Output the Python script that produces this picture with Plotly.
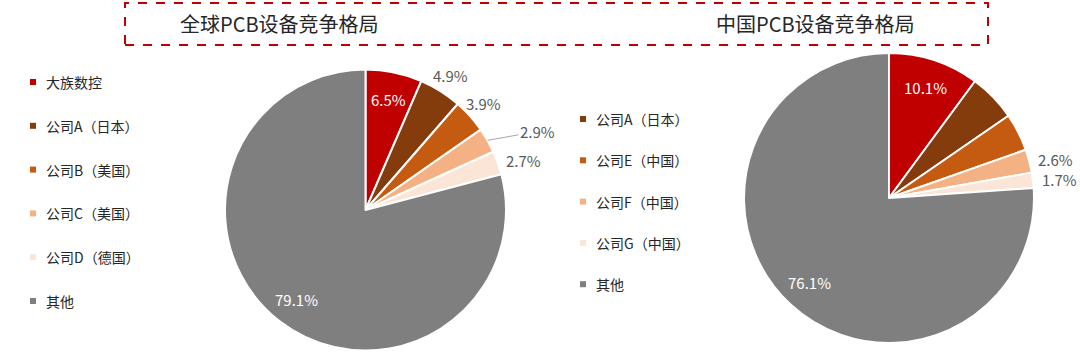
import math
import plotly.graph_objects as go

# ---- data ----
global_labels = ["大族数控", "公司A（日本）", "公司B（美国）", "公司C（美国）", "公司D（德国）", "其他"]
global_values = [6.5, 4.9, 3.9, 2.9, 2.7, 79.1]
global_text = ["6.5%", "4.9%", "3.9%", "2.9%", "2.7%", "79.1%"]

china_labels = ["大族数控", "公司A（日本）", "公司E（中国）", "公司F（中国）", "公司G（中国）", "其他"]
china_values = [10.1, 5.3, 4.2, 2.6, 1.7, 76.1]
china_text = ["10.1%", "", "", "2.6%", "1.7%", "76.1%"]

china_legend_labels = ["公司A（日本）", "公司E（中国）", "公司F（中国）", "公司G（中国）", "其他"]

titles = ["全球PCB设备竞争格局", "中国PCB设备竞争格局"]

# ---- styles ----
colors = ["#C00000", "#843C0C", "#C55A11", "#F4B183", "#FBE5D6", "#7F7F7F"]
legend_color_map = dict(zip(china_labels, colors))
legend_color_map.update(dict(zip(global_labels, colors)))
FONT = "Noto Sans CJK SC"
W, H = 1080, 360

# label placement styles: inside / outside / leader
global_place = ["in", "out", "out", "lead", "out", "in"]
china_place = ["in", "", "", "out", "out", "in"]

PIE1 = (365.5, 210, 140.5)
PIE2 = (889, 198, 145)


def dom(cx, cy, r):
    return dict(x=[(cx - r) / W, (cx + r) / W], y=[(H - cy - r) / H, (H - cy + r) / H])


fig = go.Figure()
shapes = []
annotations = []


def add_pie(labels, values, texts, places, geom):
    cx, cy, r = geom
    fig.add_trace(go.Pie(
        labels=labels, values=values, sort=False, direction="clockwise", rotation=0,
        marker=dict(colors=colors, line=dict(color="white", width=2)),
        textinfo="none", domain=dom(cx, cy, r), showlegend=False,
        hoverinfo="label+percent",
    ))
    total = sum(values)
    cum = 0.0
    for v, t, p in zip(values, texts, places):
        mid = (cum + v / 2) / total * 2 * math.pi
        cum += v
        if not t or not p:
            continue
        s, c = math.sin(mid), math.cos(mid)
        if p == "in":
            f = 0.8
            px, py = cx + f * r * s, cy - f * r * c
            annotations.append(dict(text=t, x=px / W, y=(H - py) / H, xref="paper", yref="paper",
                                    showarrow=False, xanchor="center", yanchor="middle",
                                    font=dict(size=15, color="white", family=FONT)))
        elif p == "out":
            deg = math.degrees(mid)
            if deg > 60:
                f, xa = 1.05, "left"
            else:
                f, xa = 1.13, "center"
            px, py = cx + f * r * s, cy - f * r * c
            annotations.append(dict(text=t, x=px / W, y=(H - py) / H, xref="paper", yref="paper",
                                    showarrow=False, xanchor=xa, yanchor="middle",
                                    font=dict(size=15, color="#595959", family=FONT)))
        else:  # leader line
            px, py = cx + 1.0 * r * s, cy - 1.0 * r * c
            annotations.append(dict(text=t, x=px / W, y=(H - py) / H, xref="paper", yref="paper",
                                    showarrow=True, arrowhead=0, arrowwidth=1, arrowcolor="#A6A6A6",
                                    ax=50, ay=-9, xanchor="center", yanchor="middle",
                                    font=dict(size=15, color="#595959", family=FONT)))


add_pie(global_labels, global_values, global_text, global_place, PIE1)
add_pie(china_labels, china_values, china_text, china_place, PIE2)

# dashed title box
shapes.append(dict(type="rect", xref="paper", yref="paper",
                   x0=125 / W, x1=988 / W, y0=(H - 45) / H, y1=(H - 3) / H,
                   line=dict(color="#C00000", width=2, dash="dash")))

for t, cx in zip(titles, [279, 815]):
    annotations.append(dict(text=t, x=cx / W, y=(H - 23) / H, xref="paper", yref="paper",
                            showarrow=False, xanchor="center", yanchor="middle",
                            font=dict(size=20, color="#262626", family=FONT)))


def add_legend(labels, x_marker, y_start, step):
    for i, lab in enumerate(labels):
        y = y_start + i * step
        c = legend_color_map[lab]
        shapes.append(dict(type="rect", xref="paper", yref="paper",
                           x0=(x_marker - 3) / W, x1=(x_marker + 3) / W,
                           y0=(H - y - 3) / H, y1=(H - y + 3) / H,
                           fillcolor=c, line=dict(width=0)))
        annotations.append(dict(text=lab, x=(x_marker + 11) / W, y=(H - y) / H,
                                xref="paper", yref="paper", showarrow=False,
                                xanchor="left", yanchor="middle",
                                font=dict(size=14, color="#262626", family=FONT)))


add_legend(global_labels, 33, 82, 43.8)
add_legend(china_legend_labels, 583, 119, 41.3)

fig.update_layout(
    width=W, height=H, margin=dict(l=0, r=0, t=0, b=0),
    paper_bgcolor="white", plot_bgcolor="white",
    shapes=shapes, annotations=annotations,
    font=dict(family=FONT),
)

fig.write_html("out.html")
